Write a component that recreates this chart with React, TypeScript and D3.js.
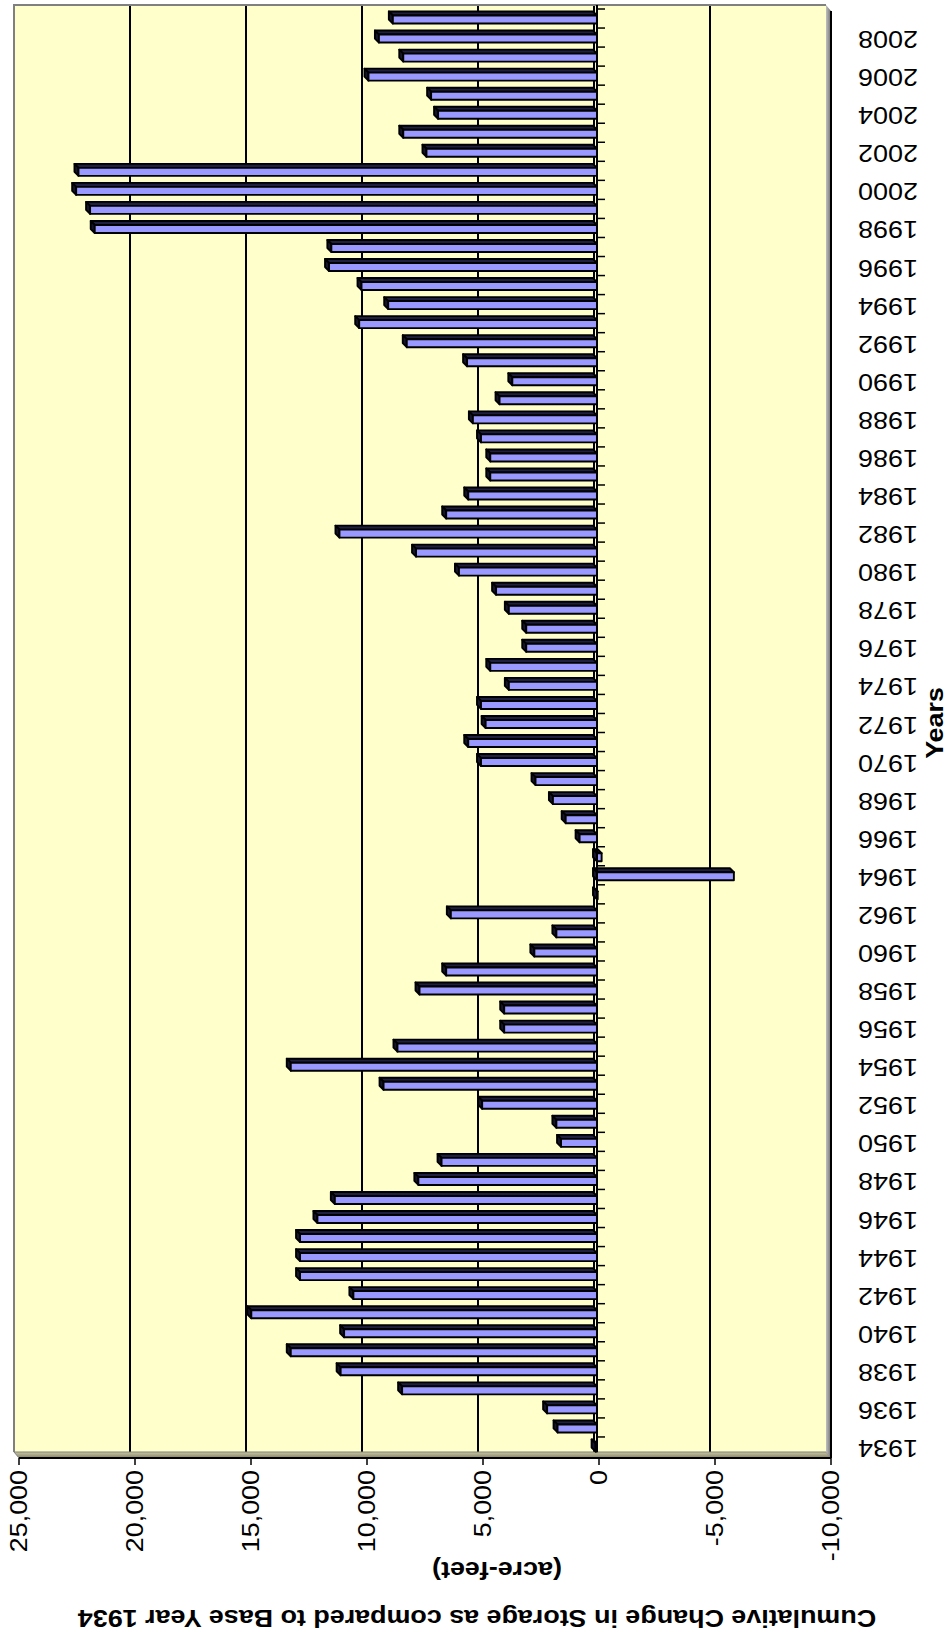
import * as d3 from 'd3';

// categories: one bar per year, base year 1934
const years = d3.range(1934, 2010);

// cumulative change in storage vs 1934 (acre-feet), 1934 -> 2009
const storage = [
  60, 1700, 2150, 8400, 11050, 13200,
  10900, 14900, 10500, 12800, 12800, 12800, 12050, 11300, 7700, 6700,
  1550, 1750, 4950, 9200, 13200, 8600, 4000, 4000, 7650, 6500,
  2700, 1750, 6300, -30, -5900, -200, 750, 1350, 1900, 2650,
  5000, 5550, 4800, 5000, 3800, 4600, 3050, 3050, 3800, 4350,
  5950, 7800, 11100, 6500, 5550, 4600, 4600, 5000, 5350, 4200,
  3650, 5600, 8200, 10250, 9000, 10150, 11550, 11450, 21650, 21850,
  22450, 22350, 7350, 8350, 6850, 7150, 9850, 8350, 9400, 8800,
];

const valueTicks = [25000, 20000, 15000, 10000, 5000, 0, -5000, -10000];
const yearTicks = years.filter((y) => y % 2 === 0);

const titleLines = ['(acre-feet)', 'Cumulative Change in Storage as compared to Base Year 1934'];
const categoryTitle = 'Years';

const W = 952;
const H = 1644;
const FONT = "'Liberation Sans', Arial, Helvetica, sans-serif";
// the source text is a little stretched along its writing direction
const STRETCH = 'scale(1.12,1)';

// back wall of the 3d plot
const wall = { left: 14, right: 826, top: 5, bottom: 1452 };
// offset from back wall to front edge
const depth = { dx: 5, dy: 6 };
// a bar's own depth (top/end faces)
const barDepth = { dx: -4, dy: -4 };

export default function App() {
  const xBack = d3.scaleLinear().domain([25000, -10000]).range([wall.left, wall.right]);
  const xFront = (v: number) => xBack(v) + depth.dx;
  const xBar = (v: number) => xBack(v) + 3;

  const y = d3
    .scaleBand<number>()
    .domain([...years].reverse())
    .range([wall.top, wall.bottom]);

  const fmt = d3.format(',');
  const label = (v: number) => fmt(v).replace('\u2212', '-');

  const floorY0 = wall.bottom;
  const floorY1 = wall.bottom + depth.dy;
  const x0 = xBar(0);

  return (
    <svg
      width={W}
      height={H}
      viewBox={`0 0 ${W} ${H}`}
      style={{ position: 'absolute', left: 0, top: 0, background: '#fff' }}
      fontFamily={FONT}
    >
      <defs>
        <linearGradient id="floorGrad" x1="0" y1="0" x2="0" y2="1">
          <stop offset="0%" stopColor="#c8c6a0" />
          <stop offset="100%" stopColor="#86846a" />
        </linearGradient>
        <linearGradient id="sideGrad" x1="0" y1="0" x2="1" y2="0">
          <stop offset="0%" stopColor="#c0c0c0" />
          <stop offset="100%" stopColor="#707070" />
        </linearGradient>
      </defs>

      {/* back wall */}
      <rect
        x={wall.left}
        y={wall.top}
        width={wall.right - wall.left}
        height={wall.bottom - wall.top}
        fill="#ffffcc"
      />

      {/* gridlines on back wall */}
      {valueTicks.slice(1, -1).map((v) => (
        <line
          key={`g${v}`}
          x1={xBack(v)}
          x2={xBack(v)}
          y1={wall.top}
          y2={wall.bottom}
          stroke="#000"
          strokeWidth={2}
        />
      ))}

      {/* floor (bottom band) */}
      <polygon
        points={[
          [wall.left, floorY0],
          [wall.right, floorY0],
          [wall.right + depth.dx, floorY1],
          [wall.left + depth.dx, floorY1],
        ].join(' ')}
        fill="url(#floorGrad)"
        stroke="#808080"
        strokeWidth={1}
      />

      {/* side band on the right */}
      <polygon
        points={[
          [wall.right, wall.top],
          [wall.right + depth.dx, wall.top + depth.dy],
          [wall.right + depth.dx, floorY1],
          [wall.right, floorY0],
        ].join(' ')}
        fill="url(#sideGrad)"
      />
      <line
        x1={wall.right + depth.dx}
        x2={wall.right + depth.dx}
        y1={wall.top + depth.dy}
        y2={floorY1}
        stroke="#000"
        strokeWidth={2}
      />

      {/* wall border */}
      <path
        d={`M${wall.left},${floorY0} L${wall.left},${wall.top} L${wall.right},${wall.top}`}
        fill="none"
        stroke="#808080"
        strokeWidth={2}
      />
      <line
        x1={wall.left + depth.dx}
        x2={wall.right + depth.dx}
        y1={floorY1}
        y2={floorY1}
        stroke="#000"
        strokeWidth={2}
      />

      {/* bars */}
      {years.map((yr, i) => {
        const v = storage[i];
        const yc = (y(yr) as number) + y.bandwidth() / 2 + 3;
        const xl = Math.min(xBar(v), x0);
        const xr = Math.max(xBar(v), x0);
        const t = yc - 2;
        const b = yc + 6;
        const { dx, dy } = barDepth;
        return (
          <g key={yr} stroke="#000" strokeWidth={1.9} strokeLinejoin="round">
            <polygon
              points={[[xl, t], [xr, t], [xr + dx, t + dy], [xl + dx, t + dy]].join(' ')}
              fill="#1f1f42"
            />
            <polygon
              points={[[xl, t], [xl, b], [xl + dx, b + dy], [xl + dx, t + dy]].join(' ')}
              fill="#15152e"
            />
            <rect x={xl} y={t} width={xr - xl} height={b - t} fill="#9999ff" />
          </g>
        );
      })}

      {/* category axis at zero */}
      <line x1={x0} x2={x0} y1={wall.top} y2={wall.bottom} stroke="#000" strokeWidth={2} />
      {years.map((yr) => (
        <line
          key={`t${yr}`}
          x1={x0}
          x2={x0 + 8}
          y1={(y(yr) as number) + 4}
          y2={(y(yr) as number) + 4}
          stroke="#000"
          strokeWidth={1.5}
        />
      ))}

      {/* value axis ticks + labels */}
      {valueTicks.map((v) => (
        <g key={`v${v}`}>
          <line
            x1={xFront(v)}
            x2={xFront(v)}
            y1={floorY1}
            y2={floorY1 + 7}
            stroke="#000"
            strokeWidth={1.5}
          />
          <text
            transform={`translate(${xFront(v)},1470) rotate(-90) ${STRETCH}`}
            textAnchor="end"
            dominantBaseline="central"
            fontSize={24}
            fill="#000"
          >
            {label(v)}
          </text>
        </g>
      ))}

      {/* year labels, upside down */}
      {yearTicks.map((yr) => (
        <text
          key={`y${yr}`}
          transform={`translate(888,${(y(yr) as number) + y.bandwidth() / 2 + 6}) rotate(180) ${STRETCH}`}
          textAnchor="middle"
          dominantBaseline="central"
          fontSize={24}
          fill="#000"
        >
          {yr}
        </text>
      ))}

      {/* axis titles */}
      <text
        transform={`translate(935,723) rotate(-90) ${STRETCH}`}
        textAnchor="middle"
        dominantBaseline="central"
        fontSize={24}
        fontWeight="bold"
      >
        {categoryTitle}
      </text>
      <text
        transform={`translate(497,1570) rotate(180) ${STRETCH}`}
        textAnchor="middle"
        dominantBaseline="central"
        fontSize={24}
        fontWeight="bold"
      >
        {titleLines[0]}
      </text>
      <text
        transform={`translate(477,1618) rotate(180) ${STRETCH}`}
        textAnchor="middle"
        dominantBaseline="central"
        fontSize={24}
        fontWeight="bold"
      >
        {titleLines[1]}
      </text>
    </svg>
  );
}
